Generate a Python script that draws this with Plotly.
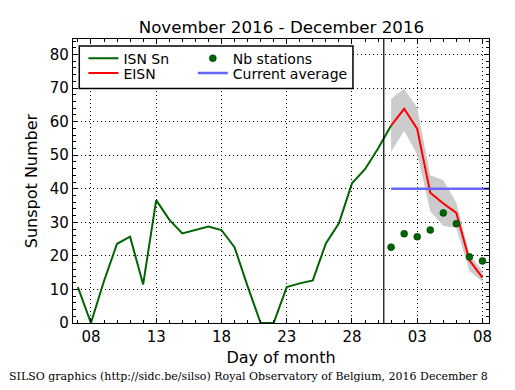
import plotly.graph_objects as go

# ---- data ----
isn_dates = ["2016-11-%02d" % d for d in range(7, 31)] + ["2016-12-01"]
isn_values = [10.7, 0, 12.5, 23.6, 25.7, 11.5, 36.6, 30.8, 26.7, 27.7, 28.7, 27.7,
              22.6, 11.0, 0, 0, 10.7, 11.8, 12.7, 23.7, 29.7, 41.6, 45.8, 52.0, 58.8]

est_dates = ["2016-12-%02d" % d for d in range(1, 9)]
eisn_values = [58.8, 63.8, 57.8, 38.8, 35.6, 32.8, 18.7, 13.5]
eisn_upper = [66.8, 69.8, 64.1, 44.0, 42.5, 35.8, 20.4, 15.5]
eisn_lower = [51.0, 57.3, 50.2, 33.3, 28.9, 28.4, 15.5, 12.3]
nb_stations = [22.6, 26.6, 25.7, 27.7, 32.8, 29.6, 19.7, 18.5]

avg_dates = ["2016-12-01", "2016-12-09"]
avg_value = 40.0
now_marker = "2016-11-30 10:30"

x_range = ["2016-11-06 15:00", "2016-12-08 12:00"]
y_range = [0, 84.6]

FONT = "DejaVu Sans"
fig = go.Figure()

# uncertainty band
fig.add_trace(go.Scatter(x=est_dates + est_dates[::-1], y=eisn_upper + eisn_lower[::-1],
                         fill="toself", fillcolor="#cccccc", line=dict(width=0),
                         mode="lines", showlegend=False, hoverinfo="skip"))

fig.add_trace(go.Scatter(x=isn_dates, y=isn_values, mode="lines", name="ISN Sn",
                         line=dict(color="#006400", width=2), legend="legend"))
fig.add_trace(go.Scatter(x=est_dates, y=eisn_values, mode="lines", name="EISN",
                         line=dict(color="#ff0000", width=2), legend="legend2"))
fig.add_trace(go.Scatter(x=est_dates, y=nb_stations, mode="markers", name="Nb stations",
                         marker=dict(color="#006400", size=7, line=dict(color="#003300", width=0.5)),
                         legend="legend3"))
fig.add_trace(go.Scatter(x=avg_dates, y=[avg_value] * len(avg_dates), mode="lines",
                         name="Current average",
                         line=dict(color="#6666ff", width=2.5), legend="legend4"))

fig.add_vline(x=now_marker, line=dict(color="black", width=1.2))

# legend frame
fig.add_shape(type="rect", xref="paper", yref="paper", x0=0.0151, x1=0.673, y0=0.826, y1=0.975,
              line=dict(color="black", width=1.5), fillcolor="white", layer="above")

axis_common = dict(
    showline=True, linecolor="black", linewidth=1.2, mirror="allticks",
    ticks="inside", ticklen=5, tickcolor="black", tickwidth=1,
    showgrid=True, gridcolor="black", griddash="1px,3px", gridwidth=0.8,
    zeroline=False, tickfont=dict(family=FONT, size=15, color="black"),
)

fig.update_xaxes(type="date", range=x_range, tick0="2016-11-08", dtick=5 * 86400000,
                 tickformat="%d",
                 minor=dict(dtick=86400000, ticks="inside", ticklen=3, tickcolor="black", showgrid=False),
                 title=dict(text="Day of month", font=dict(family=FONT, size=16, color="black"), standoff=6),
                 **axis_common)
fig.update_yaxes(range=y_range, dtick=10, tick0=0,
                 minor=dict(dtick=2, ticks="inside", ticklen=3, tickcolor="black", showgrid=False),
                 title=dict(text="Sunspot Number", font=dict(family=FONT, size=16, color="black"), standoff=8),
                 **axis_common)

leg_common = dict(bgcolor="rgba(0,0,0,0)", borderwidth=0, font=dict(family=FONT, size=14, color="black"),
                  yanchor="middle", xanchor="left", tracegroupgap=0)
row1, row2 = 0.931, 0.8785
col1, col2 = 0.025, 0.288
fig.update_layout(
    width=515, height=390,
    margin=dict(l=73, r=26, t=39, b=67),
    paper_bgcolor="white", plot_bgcolor="white",
    title=dict(text="November 2016 - December 2016", x=0.5465, xanchor="center", y=0.93, yanchor="middle",
               font=dict(family=FONT, size=16.7, color="black")),
    legend=dict(x=col1, y=row1, **leg_common),
    legend2=dict(x=col1, y=row2, **leg_common),
    legend3=dict(x=col2, y=row1, **leg_common),
    legend4=dict(x=col2, y=row2, **leg_common),
    hovermode=False,
    annotations=[dict(text="SILSO graphics (http://sidc.be/silso) Royal Observatory of Belgium, 2016 December 8",
                      xref="paper", yref="paper", x=-0.158, y=-0.187, xanchor="left", yanchor="middle",
                      showarrow=False, font=dict(family="DejaVu Serif", size=11, color="black"))],
)

fig.write_html("out.html", config={"displayModeBar": False},
               post_script="document.body.style.margin='0';")
